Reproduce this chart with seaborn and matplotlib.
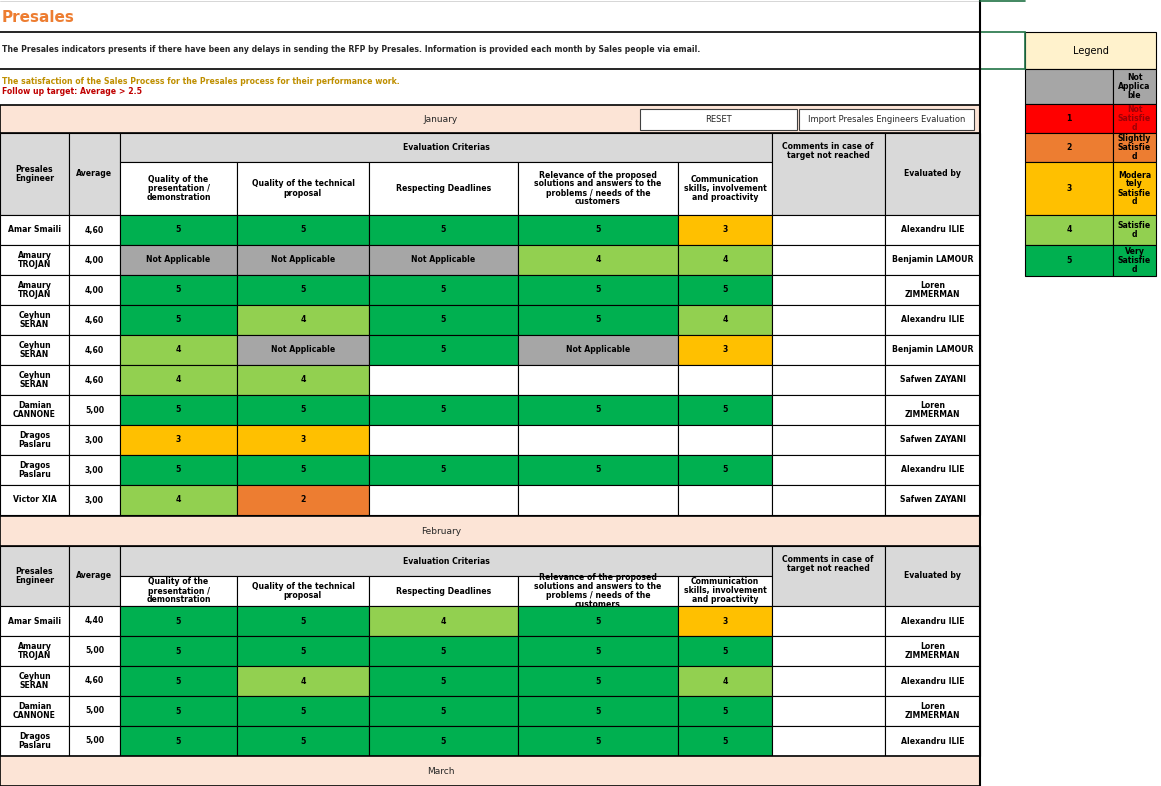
import numpy as np
import matplotlib.pyplot as plt
import seaborn as sns
from matplotlib.patches import Rectangle

sns.set_style("white")
plt.rcParams['font.family'] = ['DejaVu Sans']

criteria = ["Quality of the\npresentation /\ndemonstration", "Quality of the technical\nproposal",
            "Respecting Deadlines", "Relevance of the proposed\nsolutions and answers to the\nproblems / needs of the\ncustomers",
            "Communication\nskills, involvement\nand proactivity"]

jan_eng = ["Amar Smaili", "Amaury\nTROJAN", "Amaury\nTROJAN", "Ceyhun\nSERAN", "Ceyhun\nSERAN", "Ceyhun\nSERAN",
           "Damian\nCANNONE", "Dragos\nPaslaru", "Dragos\nPaslaru", "Victor XIA"]
jan_avg = ["4,60", "4,00", "4,00", "4,60", "4,60", "4,60", "5,00", "3,00", "3,00", "3,00"]
jan_scores = [[5, 5, 5, 5, 3], [0, 0, 0, 4, 4], [5, 5, 5, 5, 5], [5, 4, 5, 5, 4], [4, 0, 5, 0, 3],
              [4, 4, None, None, None], [5, 5, 5, 5, 5], [3, 3, None, None, None], [5, 5, 5, 5, 5],
              [4, 2, None, None, None]]
jan_by = ["Alexandru ILIE", "Benjamin LAMOUR", "Loren\nZIMMERMAN", "Alexandru ILIE", "Benjamin LAMOUR",
          "Safwen ZAYANI", "Loren\nZIMMERMAN", "Safwen ZAYANI", "Alexandru ILIE", "Safwen ZAYANI"]

feb_eng = ["Amar Smaili", "Amaury\nTROJAN", "Ceyhun\nSERAN", "Damian\nCANNONE", "Dragos\nPaslaru"]
feb_avg = ["4,40", "5,00", "4,60", "5,00", "5,00"]
feb_scores = [[5, 5, 4, 5, 3], [5, 5, 5, 5, 5], [5, 4, 5, 5, 4], [5, 5, 5, 5, 5], [5, 5, 5, 5, 5]]
feb_by = ["Alexandru ILIE", "Loren\nZIMMERMAN", "Alexandru ILIE", "Loren\nZIMMERMAN", "Alexandru ILIE"]

legend_scores = [0, 1, 2, 3, 4, 5]
legend_labels = ["Not\nApplica\nble", "Not\nSatisfie\nd", "Slightly\nSatisfie\nd", "Modera\ntely\nSatisfie\nd",
                 "Satisfie\nd", "Very\nSatisfie\nd"]

colors = {0: "#A6A6A6", 1: "#FF0000", 2: "#ED7D31", 3: "#FFC000", 4: "#92D050", 5: "#00B050"}
PEACH, GRAY, CREAM = "#FCE4D6", "#D9D9D9", "#FFF2CC"
edges = [0, 69, 120, 237, 369, 518, 678, 772, 885, 980]
FS = 5.6

fig = plt.figure(figsize=(11.61, 7.86), dpi=100)
ax = fig.add_axes([0, 0, 1, 1])
ax.set_xlim(0, 1161)
ax.set_ylim(786, 0)
ax.axis("off")


def cell(x0, y0, x1, y1, fc="white", text="", color="black", fs=FS, bold=True, lw=0.8, ec="black", ha="center"):
    ax.add_patch(Rectangle((x0, y0), x1 - x0, y1 - y0, facecolor=fc, edgecolor=ec, lw=lw))
    if text:
        tx = (x0 + x1) / 2 if ha == "center" else x0 + 3
        ax.text(tx, (y0 + y1) / 2, text, ha=ha, va="center", fontsize=fs, color=color,
                fontweight="bold" if bold else "normal", linespacing=1.0)


def band(y0, y1, label):
    cell(0, y0, 980, y1, fc=PEACH, lw=1.2)
    ax.text(441, (y0 + y1) / 2 + 1, label, ha="center", va="center", fontsize=6.5)


def header(y0, ymid, y1):
    cell(0, y0, 69, y1, GRAY, "Presales\nEngineer")
    cell(69, y0, 120, y1, GRAY, "Average")
    cell(120, y0, 772, ymid, GRAY, "Evaluation Criterias")
    for i, c in enumerate(criteria):
        cell(edges[2 + i], ymid, edges[3 + i], y1, "white", c)
    cell(772, y0, 885, y1, GRAY, "Comments in case of\ntarget not reached")
    ax.texts[-1].set_position((828, y0 + 18))
    cell(885, y0, 980, y1, GRAY, "Evaluated by")


def rows(y0, eng, avg, scores, by):
    for r in range(len(eng)):
        ya, yb = y0 + 30 * r, y0 + 30 * (r + 1)
        cell(0, ya, 69, yb, "white", eng[r])
        cell(69, ya, 120, yb, "white", avg[r])
        for i, s in enumerate(scores[r]):
            if s is None:
                cell(edges[2 + i], ya, edges[3 + i], yb, "white")
            elif s == 0:
                cell(edges[2 + i], ya, edges[3 + i], yb, colors[0], "Not Applicable")
            else:
                cell(edges[2 + i], ya, edges[3 + i], yb, colors[s], str(s))
        cell(772, ya, 885, yb, "white")
        cell(885, ya, 980, yb, "white", by[r])


# top area
ax.text(2, 18, "Presales", fontsize=11, fontweight="bold", color="#ED7D31", va="center")
ax.plot([0, 980], [32, 32], color="black", lw=1.2)
ax.plot([0, 980], [1, 1], color="#D0D0D0", lw=0.6)
ax.text(2, 50, "The Presales indicators presents if there have been any delays in sending the RFP by Presales. "
        "Information is provided each month by Sales people via email.", fontsize=FS, fontweight="bold", va="center")
ax.plot([0, 980], [69, 69], color="black", lw=1.2)
ax.text(2, 81, "The satisfaction of the Sales Process for the Presales process for their performance work.",
        fontsize=FS, fontweight="bold", color="#BF8F00", va="center")
ax.text(2, 91, "Follow up target: Average > 2.5", fontsize=FS, fontweight="bold", color="#C00000", va="center")

band(105, 133, "January")
for x0, x1, t in [(640, 797, "RESET"), (799, 974, "Import Presales Engineers Evaluation")]:
    ax.add_patch(Rectangle((x0, 109), x1 - x0, 21, facecolor="white", edgecolor="#404040", lw=0.8))
    ax.text((x0 + x1) / 2, 120, t, ha="center", va="center", fontsize=6)
header(133, 162, 215)
rows(215, jan_eng, jan_avg, jan_scores, jan_by)
band(516, 546, "February")
header(546, 576, 606)
rows(606, feb_eng, feb_avg, feb_scores, feb_by)
band(756, 786, "March")
ax.plot([980, 980], [0, 786], color="black", lw=1.5)

# legend
cell(1025, 32, 1156, 69, CREAM, "Legend", bold=False, fs=7)
ly = [69, 104, 133, 162, 215, 245, 276]
for k, s in enumerate(legend_scores):
    cell(1025, ly[k], 1113, ly[k + 1], colors[s], "" if s == 0 else str(s))
    tc = "#9C0006" if s == 1 else "black"
    cell(1113, ly[k], 1156, ly[k + 1], colors[s], legend_labels[k], color=tc)
ax.add_patch(Rectangle((980, 32), 45, 37, facecolor="none", edgecolor="#217346", lw=1.2))
ax.plot([980, 1025], [1, 1], color="#217346", lw=1.2)

fig.savefig("out.png", dpi=100)
